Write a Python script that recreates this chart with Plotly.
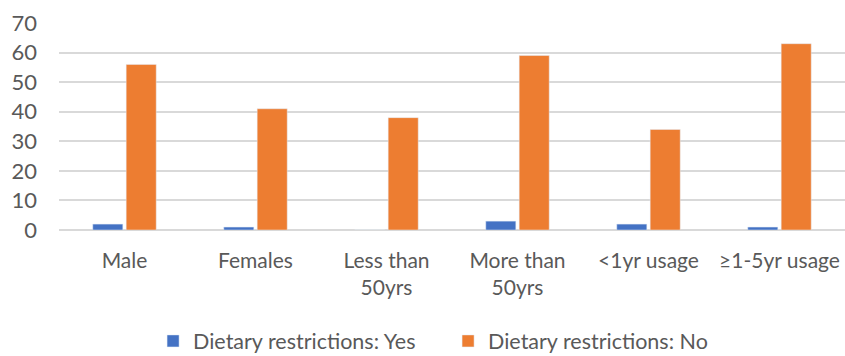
import plotly.graph_objects as go

categories = ["Male", "Females", "Less than<br>50yrs", "More than<br>50yrs", "<1yr usage", "≥1-5yr usage"]
yes_values = [2, 1, 0, 3, 2, 1]
no_values = [56, 41, 38, 59, 34, 63]
series_names = ["Dietary restrictions: Yes", "Dietary restrictions: No"]
y_ticks = [0, 10, 20, 30, 40, 50, 60, 70]

FONT = "Lato"
GREY = "#595959"

fig = go.Figure()
fig.add_trace(go.Bar(x=categories, y=yes_values, name=series_names[0], marker_color="#4472C4"))
fig.add_trace(go.Bar(x=categories, y=no_values, name=series_names[1], marker_color="#ED7D31"))

fig.update_layout(
    width=845, height=356,
    margin=dict(l=59, r=0, t=23, b=126, autoexpand=False),
    paper_bgcolor="white", plot_bgcolor="white",
    barmode="group", bargap=0.49, bargroupgap=0.1,
    font=dict(family=FONT, size=21, color=GREY),
    showlegend=True,
    legend=dict(orientation="h", x=0.495, xanchor="center", y=-0.536, yanchor="middle",
                font=dict(family=FONT, size=21.5, color=GREY), traceorder="normal",
                entrywidth=250, entrywidthmode="pixels", bgcolor="rgba(0,0,0,0)"),
    xaxis=dict(showgrid=False, showline=False, zeroline=False, ticks="",
               tickfont=dict(family=FONT, size=21, color=GREY), ticklabelstandoff=16),
    yaxis=dict(range=[0, 70], tickvals=y_ticks, showgrid=True, gridcolor="#D9D9D9", gridwidth=1.5,
               zeroline=True, zerolinecolor="#D9D9D9", zerolinewidth=1.5, showline=False, ticks="",
               tickfont=dict(family=FONT, size=22, color=GREY), ticklabelstandoff=21),
)

fig.write_html("out.html")
